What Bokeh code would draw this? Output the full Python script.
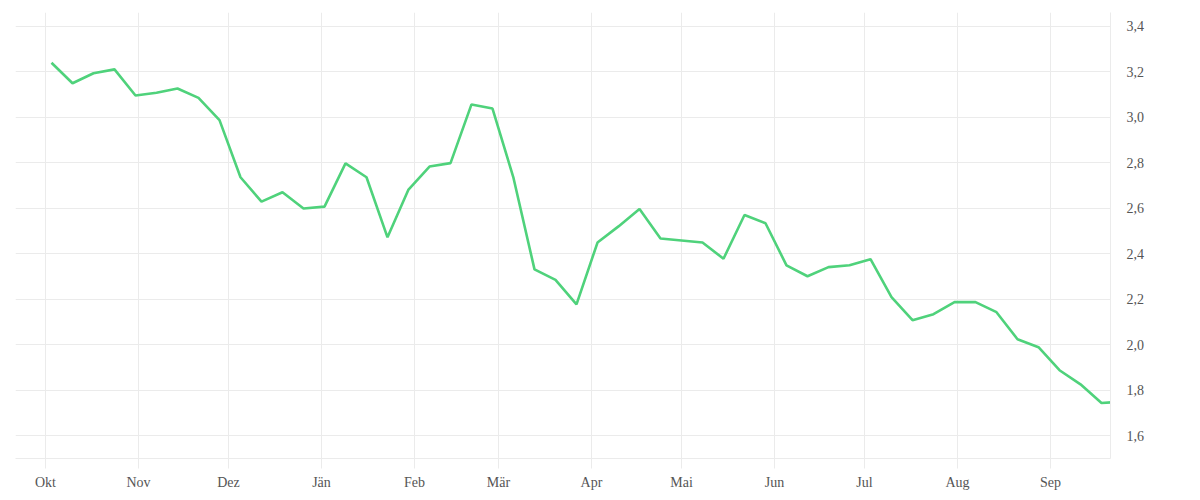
from datetime import datetime

from bokeh.plotting import figure
from bokeh.models import Range1d, FixedTicker, CustomJSTickFormatter
from bokeh.embed import file_html
from bokeh.resources import INLINE

# weekly values
week_dates = [
    "2022-10-03", "2022-10-10", "2022-10-17", "2022-10-24", "2022-10-31",
    "2022-11-07", "2022-11-14", "2022-11-21", "2022-11-28", "2022-12-05",
    "2022-12-12", "2022-12-19", "2022-12-26", "2023-01-02", "2023-01-09",
    "2023-01-16", "2023-01-23", "2023-01-30", "2023-02-06", "2023-02-13",
    "2023-02-20", "2023-02-27", "2023-03-06", "2023-03-13", "2023-03-20",
    "2023-03-27", "2023-04-03", "2023-04-10", "2023-04-17", "2023-04-24",
    "2023-05-01", "2023-05-08", "2023-05-15", "2023-05-22", "2023-05-29",
    "2023-06-05", "2023-06-12", "2023-06-19", "2023-06-26", "2023-07-03",
    "2023-07-10", "2023-07-17", "2023-07-24", "2023-07-31", "2023-08-07",
    "2023-08-14", "2023-08-21", "2023-08-28", "2023-09-04", "2023-09-11",
    "2023-09-18", "2023-09-25",
]
values = [
    3.239, 3.149, 3.193, 3.210, 3.095, 3.107, 3.126, 3.085, 2.987, 2.736,
    2.629, 2.670, 2.599, 2.607, 2.797, 2.736, 2.472, 2.682, 2.783, 2.798,
    3.056, 3.038, 2.733, 2.331, 2.285, 2.177, 2.449, 2.520, 2.596, 2.467,
    2.458, 2.449, 2.378, 2.570, 2.534, 2.349, 2.301, 2.341, 2.349, 2.376,
    2.209, 2.108, 2.134, 2.187, 2.187, 2.143, 2.024, 1.989, 1.888, 1.826,
    1.744, 1.750,
]

# month ticks and their (Austrian German) labels
month_starts = [
    "2022-10-01", "2022-11-01", "2022-12-01", "2023-01-01", "2023-02-01",
    "2023-03-01", "2023-04-01", "2023-05-01", "2023-06-01", "2023-07-01",
    "2023-08-01", "2023-09-01",
]
month_labels = ["Okt", "Nov", "Dez", "Jän", "Feb", "Mär",
                "Apr", "Mai", "Jun", "Jul", "Aug", "Sep"]
y_ticks = [1.6, 1.8, 2.0, 2.2, 2.4, 2.6, 2.8, 3.0, 3.2, 3.4]

x = [datetime.fromisoformat(d) for d in week_dates]
tick_ms = [datetime.fromisoformat(d).timestamp() * 1000 for d in month_starts]

GRID = "#ebebeb"
TEXT = "#555555"
FONT = "'Liberation Serif', serif"

p = figure(
    x_axis_type="datetime",
    x_range=Range1d(datetime(2022, 9, 21), datetime(2023, 9, 21)),
    y_range=Range1d(1.5, 3.46),
    y_axis_location="right",
    frame_width=1095,
    frame_height=446,
    min_border_left=15,
    min_border_top=12,
    min_border_right=10,
    min_border_bottom=4,
    output_backend="svg",
    toolbar_location=None,
)
p.outline_line_color = None

p.line(x, values, line_color="#4fd27b", line_width=2.6)

# x axis: month starts
xa = p.xaxis[0]
xa.ticker = FixedTicker(ticks=tick_ms)
xa.formatter = CustomJSTickFormatter(
    args=dict(month_ticks=tick_ms, month_names=month_labels),
    code="""
        for (let i = 0; i < month_ticks.length; i++) {
            if (Math.abs(month_ticks[i] - tick) < 1e6) return month_names[i];
        }
        return "";
    """,
)
xa.axis_line_color = GRID
xa.major_tick_line_color = GRID
xa.major_tick_out = 10
xa.major_tick_in = 0
xa.minor_tick_line_color = None
xa.major_label_standoff = 6
xa.major_label_text_font = FONT
xa.major_label_text_font_size = "14px"
xa.major_label_text_color = TEXT

# y axis on the right, comma decimals
ya = p.yaxis[0]
ya.ticker = FixedTicker(ticks=y_ticks)
ya.formatter = CustomJSTickFormatter(code="return tick.toFixed(1).replace('.', ',');")
ya.axis_line_color = GRID
ya.major_tick_line_color = None
ya.major_tick_out = 0
ya.major_tick_in = 0
ya.minor_tick_line_color = None
ya.major_label_standoff = 16
ya.major_label_text_font = FONT
ya.major_label_text_font_size = "14px"
ya.major_label_text_color = TEXT

p.xgrid.grid_line_color = GRID
p.ygrid.grid_line_color = GRID

open("out.html", "w").write(file_html(p, INLINE))
